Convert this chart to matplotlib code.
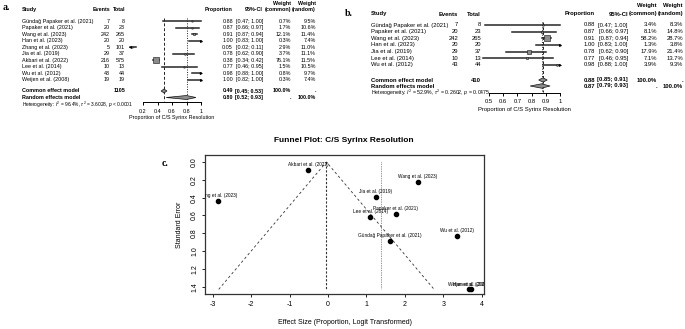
import numpy as np
import matplotlib
matplotlib.use("Agg")
import matplotlib.pyplot as plt
from matplotlib.transforms import ScaledTranslation

W, H = 685, 329
DPI = 100
PT = DPI / 72.0  # px per point

plt.rcParams["font.family"] = ["Liberation Sans", "DejaVu Sans"]
plt.rcParams["mathtext.fontset"] = "custom"
plt.rcParams["mathtext.rm"] = "Liberation Sans"
plt.rcParams["mathtext.it"] = "Liberation Sans:italic"

# ---------------- data: panel a (all studies) ----------------
a_studies = ["Gündağ Papaker et al. (2021)", "Papaker et al. (2021)", "Wang et al. (2023)",
             "Han et al. (2023)", "Zhang et al. (2023)", "Jia et al. (2019)",
             "Akbari et al. (2022)", "Lee et al. (2014)", "Wu et al. (2012)", "Weijen et al. (2008)"]
a_events = [7, 20, 242, 20, 5, 29, 216, 10, 43, 19]
a_totals = [8, 23, 265, 20, 101, 37, 575, 13, 44, 19]
a_prop = [0.88, 0.87, 0.91, 1.00, 0.05, 0.78, 0.38, 0.77, 0.98, 1.00]
a_lo = [0.47, 0.66, 0.87, 0.83, 0.02, 0.62, 0.34, 0.46, 0.88, 0.82]
a_hi = [1.00, 0.97, 0.94, 1.00, 0.11, 0.90, 0.42, 0.95, 1.00, 1.00]
a_w_common = [0.7, 1.7, 12.1, 0.3, 2.9, 3.7, 76.1, 1.5, 0.8, 0.3]
a_w_random = [9.5, 10.6, 11.4, 7.4, 11.0, 11.1, 11.5, 10.5, 9.7, 7.4]
a_common = [0.49, 0.45, 0.53]
a_random = [0.80, 0.52, 0.93]
a_n = 1105
a_het = r"Heterogeneity: $I^2$ = 96.4%, $\tau^2$ = 3.6028, $p$ < 0.0001"
a_ticks = [0.2, 0.4, 0.6, 0.8, 1.0]
a_ticklabels = ["0.2", "0.4", "0.6", "0.8", "1"]

# ---------------- data: panel b (sensitivity) ----------------
b_studies = ["Gündağ Papaker et al. (2021)", "Papaker et al. (2021)", "Wang et al. (2023)",
             "Han et al. (2023)", "Jia et al. (2019)", "Lee et al. (2014)", "Wu et al. (2012)"]
b_events = [7, 20, 242, 20, 29, 10, 43]
b_totals = [8, 23, 265, 20, 37, 13, 44]
b_prop = [0.88, 0.87, 0.91, 1.00, 0.78, 0.77, 0.98]
b_lo = [0.47, 0.66, 0.87, 0.83, 0.62, 0.46, 0.88]
b_hi = [1.00, 0.97, 0.94, 1.00, 0.90, 0.95, 1.00]
b_w_common = [3.4, 8.1, 58.2, 1.3, 17.9, 7.1, 3.9]
b_w_random = [8.3, 14.8, 28.7, 3.8, 21.4, 13.7, 9.3]
b_common = [0.88, 0.85, 0.91]
b_random = [0.87, 0.79, 0.93]
b_n = 410
b_het = r"Heterogeneity: $I^2$ = 52.9%, $\tau^2$ = 0.2602, $p$ = 0.0475"
b_ticks = [0.5, 0.6, 0.7, 0.8, 0.9, 1.0]
b_ticklabels = ["0.5", "0.6", "0.7", "0.8", "0.9", "1"]

# ---------------- data: panel c (funnel) ----------------
f_labels = ["Gündağ Papaker et al. (2021)", "Papaker et al. (2021)", "Wang et al. (2023)",
            "Han et al. (2023)", "Zhang et al. (2023)", "Jia et al. (2019)",
            "Akbari et al. (2022)", "Lee et al. (2014)", "Wu et al. (2012)", "Weijen et al. (2008)"]
f_logit = [1.61, 1.77, 2.33, 3.71, -2.87, 1.24, -0.51, 1.10, 3.37, 3.66]
f_se = [0.89, 0.58, 0.22, 1.43, 0.44, 0.39, 0.09, 0.62, 0.83, 1.43]
f_common = -0.04
f_random = 1.39


def px_axes(fig, x0, y0, x1, y1):
    return fig.add_axes([x0 / W, 1 - y1 / H, (x1 - x0) / W, (y1 - y0) / H])


def fmt_ci(lo, hi):
    return f"[{lo:.2f}; {hi:.2f}]"


def draw_forest(fig, ov, L, studies, events, totals, prop, lo, hi, wc, wr,
                common, random, n_total, het, ticks, ticklabels):
    fs = L["fs"]
    # panel letter
    ov.text(L["letter"][0], L["letter"][1], L["letter"][2], family="Liberation Serif",
            fontweight="bold", fontsize=7, ha="left", va="center")

    # headers
    hy, hy2 = L["head_y"], L["head2_y"]
    bold = dict(fontsize=fs, fontweight="bold", va="center")
    ov.text(L["study_x"], hy, "Study", ha="left", **bold)
    ov.text(L["events_r"], hy, "Events", ha="right", **bold)
    ov.text(L["total_r"], hy, "Total", ha="right", **bold)
    ov.text(L["prop_r"], hy, "Proportion", ha="right", **bold)
    ov.text(L["ci_r"], hy, "95%-CI", ha="right", **bold)
    ov.text(L["wc_r"], hy2, "Weight", ha="right", **bold)
    ov.text(L["wc_r"], hy, "(common)", ha="right", **bold)
    ov.text(L["wr_r"], hy2, "Weight", ha="right", **bold)
    ov.text(L["wr_r"], hy, "(random)", ha="right", **bold)

    norm = dict(fontsize=fs, va="center")
    rows = [L["row0"] + i * L["step"] for i in range(len(studies))]
    for i, y in enumerate(rows):
        ov.text(L["study_x"], y, studies[i], ha="left", **norm)
        ov.text(L["events_r"], y, str(events[i]), ha="right", **norm)
        ov.text(L["total_r"], y, str(totals[i]), ha="right", **norm)
        ov.text(L["prop_r"], y, f"{prop[i]:.2f}", ha="right", **norm)
        ov.text(L["ci_r"], y, fmt_ci(lo[i], hi[i]), ha="right", **norm)
        ov.text(L["wc_r"], y, f"{wc[i]:.1f}%", ha="right", **norm)
        ov.text(L["wr_r"], y, f"{wr[i]:.1f}%", ha="right", **norm)

    cy, ry = L["common_y"], L["random_y"]
    ov.text(L["study_x"], cy, "Common effect model", ha="left", **bold)
    ov.text(L["total_r"], cy, str(n_total), ha="right", **bold)
    ov.text(L["prop_r"], cy, f"{common[0]:.2f}", ha="right", **bold)
    ov.text(L["ci_r"], cy, fmt_ci(common[1], common[2]), ha="right", **bold)
    ov.text(L["wc_r"], cy, "100.0%", ha="right", **bold)
    ov.text(L["wr_r"], cy, ".", ha="right", **bold)
    ov.text(L["study_x"], ry, "Random effects model", ha="left", **bold)
    ov.text(L["prop_r"], ry, f"{random[0]:.2f}", ha="right", **bold)
    ov.text(L["ci_r"], ry, fmt_ci(random[1], random[2]), ha="right", **bold)
    ov.text(L["wc_r"], ry, ".", ha="right", **bold)
    ov.text(L["wr_r"], ry, "100.0%", ha="right", **bold)
    ov.text(L["study_x"], L["het_y"], het, ha="left", va="center", fontsize=fs * 0.9)
    ov.text((L["map"][0][1] + L["map"][1][1]) / 2, L["xlab_y"],
            "Proportion of C/S Syrinx Resolution", ha="center", va="center", fontsize=fs)

    # plotting axes: x in proportion units, y in pixel rows
    x0, x1 = L["ax_x"]
    (v0, p0), (v1, p1) = L["map"]
    scale = (p1 - p0) / (v1 - v0)
    top = L["row0"] - 5
    ax = px_axes(fig, x0, top, x1, L["axis_y"])
    ax.set_xlim(v0 - (p0 - x0) / scale, v1 + (x1 - p1) / scale)
    ax.set_ylim(L["axis_y"], top)
    ax.patch.set_alpha(0)
    for s in ["top", "right", "left"]:
        ax.spines[s].set_visible(False)
    ax.spines["bottom"].set_bounds(ticks[0], ticks[-1])
    ax.spines["bottom"].set_linewidth(0.7)
    ax.set_yticks([])
    ax.set_xticks(ticks)
    ax.set_xticklabels(ticklabels, fontsize=fs)
    ax.tick_params(axis="x", length=2.2, width=0.7, pad=2.2)

    ax.vlines(common[0], top + 2, L["axis_y"] - 1, colors="#222222", linestyles=(0, (3, 2)), lw=0.7)
    ax.vlines(random[0], top + 2, L["axis_y"] - 1, colors="#222222", linestyles=(0, (1, 1.5)), lw=0.7)

    # confidence intervals
    for i, y in enumerate(rows):
        ax.plot([lo[i], hi[i]], [y, y], color="#262626", lw=1.1, zorder=5, clip_on=False)

    k = 0.75  # square side in px per sqrt(weight %)
    for i, y in enumerate(rows):
        side = max(k * np.sqrt(wc[i]), 1.2) / PT
        ax.plot(prop[i], y, marker="s", ms=side, mfc="#8c8c8c", mec="#111111", mew=0.4,
                zorder=6, clip_on=False)
        if prop[i] >= 0.95:
            ax.plot(hi[i], y, marker=">", ms=2.2, color="black", mew=0, zorder=6, clip_on=False)
        if lo[i] < ticks[0] and hi[i] < ticks[0]:
            ax.plot(lo[i], y, marker="<", ms=2.2, color="black", mew=0, zorder=6, clip_on=False)

    hd = L["dia_h"]
    for (est, l, h), y in [(common, cy), (random, ry)]:
        ax.fill([l, est, h, est], [y, y - hd, y, y + hd], facecolor="#8c8c8c",
                edgecolor="#111111", lw=0.5, zorder=6, clip_on=False)


fig = plt.figure(figsize=(W / DPI, H / DPI), dpi=DPI)
ov = fig.add_axes([0, 0, 1, 1])
ov.set_xlim(0, W)
ov.set_ylim(H, 0)
ov.axis("off")

layout_a = dict(fs=3.9, letter=(3, 8, "a."), head_y=9.5, head2_y=3.2, study_x=22,
                events_r=110, total_r=125, prop_r=233, ci_r=263, wc_r=291, wr_r=316,
                row0=21.5, step=6.45, common_y=91, random_y=97.5, het_y=104.5,
                axis_y=102.5, xlab_y=117.5, ax_x=(118, 208), map=((0.2, 143), (1.0, 201)),
                dia_h=2.0)
layout_b = dict(fs=4.2, letter=(345, 14, "b."), head_y=14, head2_y=5, study_x=371,
                events_r=458, total_r=481, prop_r=595, ci_r=628, wc_r=657, wr_r=683,
                row0=25, step=6.65, common_y=80, random_y=86, het_y=92.5,
                axis_y=93, xlab_y=109, ax_x=(482, 566), map=((0.5, 489), (1.0, 560)),
                dia_h=2.2)

draw_forest(fig, ov, layout_a, a_studies, a_events, a_totals, a_prop, a_lo, a_hi,
            a_w_common, a_w_random, a_common, a_random, a_n, a_het, a_ticks, a_ticklabels)
draw_forest(fig, ov, layout_b, b_studies, b_events, b_totals, b_prop, b_lo, b_hi,
            b_w_common, b_w_random, b_common, b_random, b_n, b_het, b_ticks, b_ticklabels)

# ---------------- panel c: funnel plot ----------------
ov.text(344, 140, "Funnel Plot: C/S Syrinx Resolution", ha="center", va="center",
        fontsize=6, fontweight="bold")
ov.text(162, 164, "c.", family="Liberation Serif", fontweight="bold", fontsize=7,
        ha="left", va="center")

axf = px_axes(fig, 205, 155, 484, 294)
axf.set_xlim(-3.2, 4.06)
axf.set_ylim(1.482, -0.0786)
for s in axf.spines.values():
    s.set_linewidth(0.9)
    s.set_color("#333333")
axf.set_xticks([-3, -2, -1, 0, 1, 2, 3, 4])
axf.set_xticklabels(["-3", "-2", "-1", "0", "1", "2", "3", "4"], fontsize=5)
axf.set_yticks([0.0, 0.2, 0.4, 0.6, 0.8, 1.0, 1.2, 1.4])
axf.set_yticklabels(["0.0", "0.2", "0.4", "0.6", "0.8", "1.0", "1.2", "1.4"], fontsize=5,
                    rotation=90, va="center")
axf.tick_params(length=2.5, width=0.6, pad=2.5)
axf.set_xlabel("Effect Size (Proportion, Logit Transformed)", fontsize=5, labelpad=8)
axf.set_ylabel("Standard Error", fontsize=5, labelpad=6)

se_max = max(f_se)
axf.plot([f_common - 1.96 * se_max, f_common, f_common + 1.96 * se_max], [se_max, 0, se_max],
         color="#333333", lw=0.6, ls=(0, (3, 3)))
axf.plot([f_common, f_common], [0, se_max], color="#333333", lw=0.8, ls=(0, (2, 1.5)))
axf.plot([f_random, f_random], [0, se_max], color="#333333", lw=0.5, ls=(0, (1, 1.5)))
axf.plot(f_logit, f_se, "o", color="black", ms=3.0, zorder=3)

lift = axf.transData + ScaledTranslation(0, 2.0 / 72, fig.dpi_scale_trans)
for lab, x, y in zip(f_labels, f_logit, f_se):
    axf.text(x, y, lab, transform=lift, ha="center", va="bottom", fontsize=3.4, clip_on=True)

fig.savefig("out.png", dpi=DPI)
